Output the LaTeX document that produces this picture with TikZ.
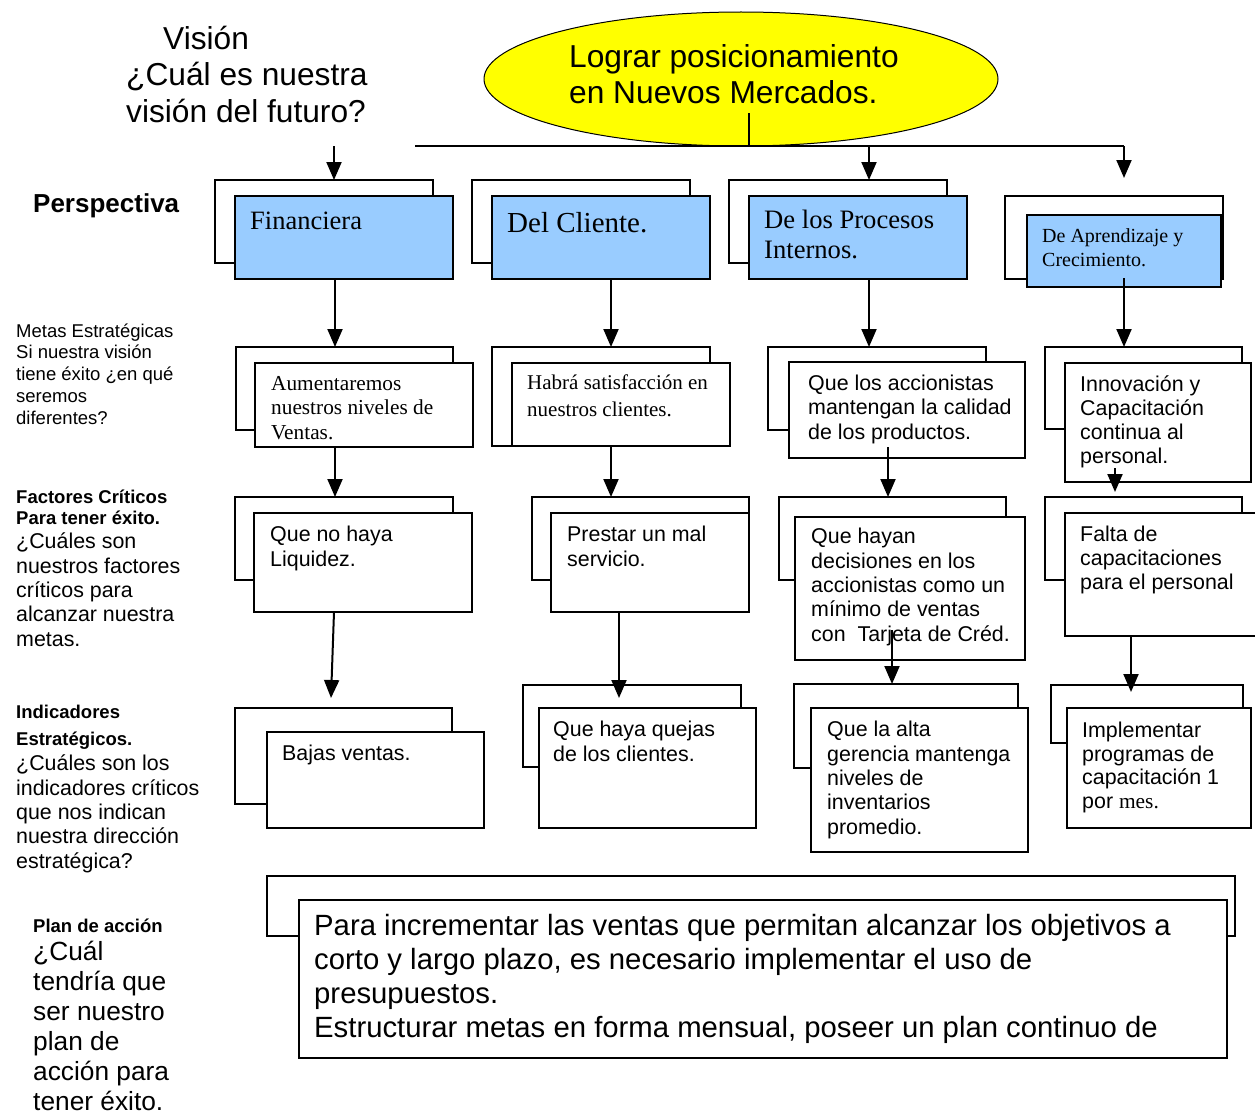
\documentclass[tikz,border=0pt]{standalone}
\usepackage{fontspec}
\setmainfont{Liberation Serif}
\setsansfont{Liberation Sans}
\usepackage{tikz}
\usetikzlibrary{arrows.meta}
\usetikzlibrary{shapes.geometric}
\definecolor{perspblue}{HTML}{99CCFF}
\definecolor{goalyellow}{HTML}{FFFF00}
\newcommand{\boxfont}{\sffamily\fontsize{21.4pt}{24.3pt}\selectfont}
\newcommand{\serifboxfont}{\rmfamily\fontsize{21.3pt}{24.5pt}\selectfont}
\tikzset{
  backbox/.style={rectangle,draw,line width=2pt,inner sep=0pt,
                  outer sep=0pt,anchor=north west},
  frontbox/.style={backbox,fill=white},
  perspbox/.style={backbox,fill=perspblue},
  boxtext/.style={anchor=base west,inner sep=0pt,align=left,font=\boxfont},
  serifboxtext/.style={boxtext,font=\serifboxfont},
  sidelabel/.style={anchor=base west,inner sep=0pt,align=left},
  flowarrow/.style={>={Triangle[width=15pt,length=18pt]},line width=2pt,->},
  flowline/.style={line width=2pt},
}

\begin{document}
\begin{tikzpicture}
    [x=1pt,y=-1pt,
     goal/.style={ellipse,draw,fill=goalyellow,line width=1pt,
                  minimum width=514pt,minimum height=134pt,inner sep=0pt}]
  \useasboundingbox (0,0) rectangle (1255,1116);

  % left column (texts are placed by the baseline of their last line)
  \node[sidelabel,font=\sffamily\fontsize{31.7pt}{36.5pt}\selectfont] (vision)
    at (126,122) {\hspace*{37pt}Visión\\¿Cuál es nuestra\\visión del futuro?};
  \node[sidelabel,font=\sffamily\bfseries\fontsize{26pt}{30pt}\selectfont] (persp)
    at (33,212) {Perspectiva};
  \node[sidelabel,font=\sffamily\fontsize{18.5pt}{21.7pt}\selectfont] (metas)
    at (16,424) {Metas Estratégicas\\Si nuestra visión\\tiene éxito ¿en qué\\seremos\\diferentes?};
  \node[sidelabel,font=\sffamily\bfseries\fontsize{18.5pt}{20.5pt}\selectfont] (fact)
    at (16,524) {Factores Críticos\\Para tener éxito.};
  \node[sidelabel,font=\boxfont] (fact-q)
    at (16,646) {¿Cuáles son\\nuestros factores\\críticos para\\alcanzar nuestra\\metas.};
  \node[sidelabel,font=\sffamily\bfseries\fontsize{18.5pt}{27pt}\selectfont] (indic)
    at (16,745) {Indicadores\\Estratégicos.};
  \node[sidelabel,font=\boxfont] (indic-q)
    at (16,868) {¿Cuáles son los\\indicadores críticos\\que nos indican\\nuestra dirección\\estratégica?};
  \node[sidelabel,font=\sffamily\bfseries\fontsize{18.5pt}{21pt}\selectfont] (plan)
    at (33,932) {Plan de acción};
  \node[sidelabel,font=\sffamily\fontsize{26.3pt}{30pt}\selectfont] (plan-q)
    at (33,1110) {¿Cuál\\tendría que\\ser nuestro\\plan de\\acción para\\tener éxito.};

  % goal
  \node[goal] (goal) at (741,79) {};
  \node[sidelabel,font=\sffamily\fontsize{31.7pt}{36pt}\selectfont] (goal-t)
    at (569,103) {Lograr posicionamiento\\en Nuevos Mercados.};

  % arrow columns
  \coordinate (col1)  at (335,0);
  \coordinate (col2)  at (611,0);
  \coordinate (col2c) at (619,0);
  \coordinate (col3)  at (869,0);
  \coordinate (col3b) at (888,0);
  \coordinate (col3c) at (892,0);
  \coordinate (col4)  at (1124,0);
  \coordinate (col4b) at (1115,0);
  \coordinate (col4c) at (1131,0);
  \coordinate (stem)  at (749,113);
  \coordinate (bar-l) at (415,146);
  \coordinate (bar-r) at (1124,146);
  \coordinate (vis-out) at (334,146);
  \coordinate (apr-in) at (1124,178);

  % perspectives
  \node[backbox,minimum width=218pt,minimum height=83pt] (fin-b) at (215,180) {};
  \node[perspbox,minimum width=218pt,minimum height=83pt] (fin) at (235,196) {};
  \node[serifboxtext,font=\rmfamily\fontsize{26.5pt}{30pt}\selectfont] (fin-t)
    at (250,229) {Financiera};
  \node[backbox,minimum width=218pt,minimum height=83pt] (cli-b) at (472,180) {};
  \node[perspbox,minimum width=218pt,minimum height=83pt] (cli) at (492,196) {};
  \node[serifboxtext,font=\rmfamily\fontsize{29pt}{32pt}\selectfont] (cli-t)
    at (507,232) {Del Cliente.};
  \node[backbox,minimum width=218pt,minimum height=83pt] (pro-b) at (729,180) {};
  \node[perspbox,minimum width=218pt,minimum height=83pt] (pro) at (749,196) {};
  \node[serifboxtext,font=\rmfamily\fontsize{26.6pt}{30pt}\selectfont] (pro-t)
    at (764,258) {De los Procesos\\Internos.};
  \node[backbox,minimum width=218pt,minimum height=83pt] (apr-b) at (1005,196) {};
  \node[perspbox,minimum width=194pt,minimum height=72pt] (apr) at (1027,215) {};
  \node[serifboxtext,font=\rmfamily\fontsize{20pt}{24pt}\selectfont] (apr-t)
    at (1042,266) {De Aprendizaje y\\Crecimiento.};

  % strategic goals
  \node[backbox,minimum width=217pt,minimum height=83pt] (m1-b) at (236,347) {};
  \node[frontbox,minimum width=218pt,minimum height=84pt] (m1) at (255,363) {};
  \node[serifboxtext] (m1-t) at (271,439) {Aumentaremos\\nuestros niveles de\\Ventas.};
  \node[backbox,minimum width=218pt,minimum height=99pt] (m2-b) at (492,347) {};
  \node[frontbox,minimum width=218pt,minimum height=83pt] (m2) at (512,363) {};
  \node[serifboxtext,font=\rmfamily\fontsize{21pt}{27pt}\selectfont] (m2-t)
    at (527,416) {Habrá satisfacción en\\nuestros clientes.};
  \node[backbox,minimum width=218pt,minimum height=83pt] (m3-b) at (768,347) {};
  \node[frontbox,minimum width=236pt,minimum height=96pt] (m3) at (789,362) {};
  \node[boxtext] (m3-t) at (808,439) {Que los accionistas\\mantengan la calidad\\de los productos.};
  \node[backbox,minimum width=197pt,minimum height=82pt] (m4-b) at (1045,347) {};
  \node[frontbox,minimum width=186pt,minimum height=119pt] (m4) at (1065,363) {};
  \node[boxtext,font=\sffamily\fontsize{21.4pt}{23.7pt}\selectfont] (m4-t)
    at (1080,463) {Innovación y\\Capacitación\\continua al\\personal.};

  % critical factors
  \node[backbox,minimum width=218pt,minimum height=83pt] (f1-b) at (235,497) {};
  \node[frontbox,minimum width=218pt,minimum height=99pt] (f1) at (254,513) {};
  \node[boxtext] (f1-t) at (270,566) {Que no haya\\Liquidez.};
  \node[backbox,minimum width=217pt,minimum height=83pt] (f2-b) at (532,497) {};
  \node[frontbox,minimum width=198pt,minimum height=99pt] (f2) at (551,513) {};
  \node[boxtext] (f2-t) at (567,566) {Prestar un mal\\servicio.};
  \node[backbox,minimum width=227pt,minimum height=83pt] (f3-b) at (779,497) {};
  \node[frontbox,minimum width=230pt,minimum height=143pt] (f3) at (795,517) {};
  \node[boxtext] (f3-t) at (811,641)
    {Que hayan\\decisiones en los\\accionistas como un\\mínimo de ventas\\con\ \ Tarjeta de Créd.};
  \node[backbox,minimum width=197pt,minimum height=83pt] (f4-b) at (1045,497) {};
  \node[frontbox,minimum width=197pt,minimum height=123pt] (f4) at (1065,513) {};
  \node[boxtext,font=\sffamily\fontsize{21.4pt}{24pt}\selectfont] (f4-t)
    at (1080,589) {Falta de\\capacitaciones\\para el personal};

  % strategic indicators
  \node[backbox,minimum width=217pt,minimum height=96pt] (i1-b) at (235,708) {};
  \node[frontbox,minimum width=217pt,minimum height=96pt] (i1) at (267,732) {};
  \node[boxtext] (i1-t) at (282,760) {Bajas ventas.};
  \node[backbox,minimum width=218pt,minimum height=82pt] (i2-b) at (523,685) {};
  \node[frontbox,minimum width=217pt,minimum height=120pt] (i2) at (539,708) {};
  \node[boxtext] (i2-t) at (553,761) {Que haya quejas\\de los clientes.};
  \node[backbox,minimum width=224pt,minimum height=84pt] (i3-b) at (794,684) {};
  \node[frontbox,minimum width=217pt,minimum height=144pt] (i3) at (811,708) {};
  \node[boxtext] (i3-t) at (827,834)
    {Que la alta\\gerencia mantenga\\niveles de\\inventarios\\promedio.};
  \node[backbox,minimum width=192pt,minimum height=58pt] (i4-b) at (1051,685) {};
  \node[frontbox,minimum width=184pt,minimum height=120pt] (i4) at (1067,708) {};
  \node[boxtext,font=\sffamily\fontsize{21.4pt}{23.5pt}\selectfont] (i4-t)
    at (1082,808) {Implementar\\programas de\\capacitación 1\\por {\rmfamily mes.}};

  % action plan
  \node[backbox,minimum width=968pt,minimum height=60pt] (ap-b) at (267,876) {};
  \node[frontbox,minimum width=928pt,minimum height=158pt] (ap) at (299,900) {};
  \node[boxtext,font=\sffamily\fontsize{29.3pt}{33.7pt}\selectfont] (ap-t) at (314,1037)
    {Para incrementar las ventas que permitan alcanzar los objetivos a\\corto y largo plazo, es necesario implementar el uso de\\presupuestos.\\Estructurar metas en forma mensual, poseer un plan continuo de};

  % vision and goal flows
  \draw[flowline] (stem) -- (stem |- bar-l);
  \draw[flowline] (bar-l) -- (bar-r);
  \draw[flowarrow] (vis-out) -- (fin-b.north -| vis-out);
  \draw[flowarrow] (bar-l -| col3) -- (pro-b.north -| col3);
  \draw[flowarrow] (bar-r) -- (apr-in);

  % perspective to goals
  \draw[flowarrow] (fin.south -| col1) -- (m1-b.north -| col1);
  \draw[flowarrow] (cli.south -| col2) -- (m2-b.north -| col2);
  \draw[flowarrow] (pro.south -| col3) -- (m3-b.north -| col3);
  \draw[flowarrow] ([yshift=9pt]apr.south -| col4) -- (m4-b.north -| col4);

  % goals to factors
  \draw[flowarrow] (m1.south -| col1) -- (f1-b.north -| col1);
  \draw[flowarrow] (m2.south -| col2) -- (f2-b.north -| col2);
  \draw[flowarrow] ([yshift=11pt]m3.south -| col3b) -- (f3-b.north -| col3b);
  \draw[flowarrow] ([yshift=14pt]m4.south -| col4b) -- ([yshift=5pt]f4-b.north -| col4b);

  % factors to indicators
  \coordinate (i1-in) at (331,698);
  \coordinate (i2-in) at (619,698);
  \coordinate (i4-in) at (1131,692);
  \draw[flowarrow] ([xshift=-1pt]f1.south -| col1) -- (i1-in);
  \draw[flowarrow] (f2.south -| col2c) -- (i2-in);
  \draw[flowarrow] ([yshift=30pt]f3.south -| col3c) -- (i3-b.north -| col3c);
  \draw[flowarrow] (f4.south -| col4c) -- (i4-in);
\end{tikzpicture}
\end{document}
